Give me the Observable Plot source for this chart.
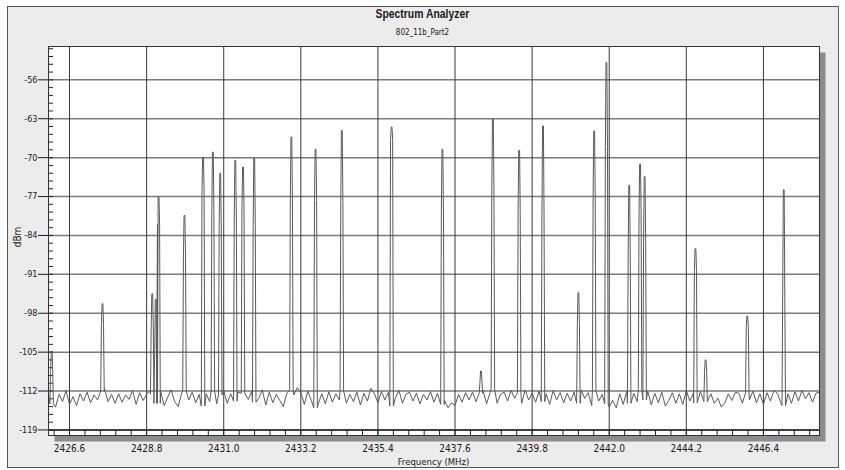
<!DOCTYPE html>
<html>
<head>
<meta charset="utf-8">
<script src="https://cdn.jsdelivr.net/npm/d3@7"></script>
<script src="https://cdn.jsdelivr.net/npm/@observablehq/plot@0.6"></script>
<style>
html,body{margin:0;padding:0;background:#fff;}
#wrap{position:relative;width:845px;height:470px;overflow:hidden;font-family:"DejaVu Sans Condensed","Liberation Sans Narrow","Liberation Sans",sans-serif;color:#1a1a1a;}
#panel{position:absolute;left:7px;top:6px;width:832px;height:462px;box-sizing:border-box;background:#ececec;border:1px solid #555;}
#title{position:absolute;left:0;width:845px;top:6px;line-height:15px;text-align:center;font-family:"Liberation Sans",sans-serif;font-size:13px;font-weight:bold;transform:scaleX(0.8);transform-origin:422px 0;}
#subtitle{position:absolute;left:0;width:845px;top:28px;line-height:10px;text-align:center;font-size:8px;}
#chart{position:absolute;left:0;top:0;}
#ylabel{position:absolute;left:18px;top:237px;transform:translate(-50%,-50%) rotate(-90deg);font-size:10px;line-height:12px;white-space:nowrap;}
#xlabel{position:absolute;left:48px;width:771px;top:456px;line-height:12px;text-align:center;font-size:9.5px;}
</style>
</head>
<body>
<div id="wrap">
  <div id="panel"></div>
  <div id="chart"></div>
  <div id="title">Spectrum Analyzer</div>
  <div id="subtitle">802_11b_Part2</div>
  <div id="ylabel">dBm</div>
  <div id="xlabel">Frequency (MHz)</div>
</div>
<script>
// ---- data ----
const xTicks = [2426.6, 2428.8, 2431.0, 2433.2, 2435.4, 2437.6, 2439.8, 2442.0, 2444.2, 2446.4];
const yTicks = [-56, -63, -70, -77, -84, -91, -98, -105, -112, -119];

// noise floor samples, 2426.0 .. 2448.0 MHz every 0.1 MHz (dBm)
const noiseStart = 2426.0;
const noiseStep = 0.1;
const noise = [
 -112.4,-114.3,-114.9,-112.6,-113.9,-111.9,-114.4,-113.0,-114.6,-112.5,
 -113.8,-112.2,-114.1,-112.7,-113.6,-112.0,-111.6,-113.9,-112.6,-114.2,
 -112.5,-114.0,-112.7,-113.5,-111.9,-114.4,-112.3,-113.7,-112.6,-111.9,
 -112.6,-114.2,-112.1,-114.6,-113.1,-111.8,-113.9,-114.8,-112.4,-111.9,
 -113.6,-112.2,-114.1,-112.6,-114.7,-112.5,-113.9,-112.0,-114.3,-112.7,
 -111.9,-114.2,-112.5,-113.8,-112.2,-114.6,-112.4,-113.5,-112.0,-114.0,
 -113.3,-111.8,-114.5,-112.2,-114.1,-112.6,-113.7,-114.8,-112.4,-111.7,
 -112.7,-111.4,-112.3,-114.4,-112.0,-113.7,-115.0,-114.2,-112.5,-114.3,
 -112.1,-114.0,-112.5,-113.6,-111.9,-114.2,-112.6,-113.9,-112.2,-114.5,
 -112.4,-113.8,-111.5,-112.5,-114.1,-112.1,-113.6,-112.2,-114.7,-113.2,
 -111.9,-114.2,-112.6,-112.2,-113.8,-112.4,-114.3,-112.6,-113.6,-112.1,
 -114.0,-112.4,-114.4,-113.7,-115.0,-114.1,-114.6,-112.6,-114.0,-112.3,
 -113.6,-112.2,-113.9,-112.4,-111.9,-114.3,-112.3,-111.7,-114.2,-112.6,
 -112.2,-113.8,-111.9,-113.3,-112.3,-114.2,-111.8,-113.6,-112.4,-114.0,
 -112.0,-113.9,-112.5,-114.4,-111.9,-113.6,-112.3,-114.1,-112.4,-113.8,
 -112.2,-114.2,-111.8,-113.3,-112.3,-114.6,-112.0,-113.8,-112.6,-114.3,
 -114.9,-113.7,-115.0,-112.5,-114.4,-112.0,-114.2,-112.4,-113.9,-111.8,
 -113.6,-112.0,-114.5,-112.4,-114.1,-112.2,-114.7,-113.7,-112.3,-114.2,
 -112.5,-114.4,-111.9,-113.8,-112.4,-114.1,-112.1,-114.7,-113.9,-112.5,
 -114.2,-113.3,-114.9,-114.1,-112.5,-113.7,-112.2,-112.4,-114.2,-112.3,
 -113.6,-112.0,-114.1,-112.5,-114.4,-112.3,-113.8,-111.9,-112.4,-114.2,
 -114.6,-112.5,-114.2,-112.1,-113.8,-111.9,-113.4,-112.3,-114.0,-112.4,
 -112.2
];

// carrier spikes: centre frequency (MHz), peak level and shoulder level (dBm)
const peakFreq = [2426.09, 2427.54, 2428.96, 2429.06, 2429.14, 2429.88, 2430.41, 2430.69, 2430.90, 2431.33,
                  2431.55, 2431.87, 2432.93, 2433.62, 2434.37, 2435.79, 2437.24, 2438.34, 2438.68, 2439.43,
                  2440.11, 2441.12, 2441.57, 2441.92, 2442.57, 2442.88, 2443.01, 2444.46, 2444.75, 2445.94,
                  2446.98];
const peakTop = [-104.8, -96.3, -94.5, -95.5, -77.1, -80.4, -69.9, -69.0, -72.8, -70.5,
                 -71.7, -70.1, -66.3, -68.5, -65.1, -64.5, -68.5, -108.4, -63.1, -68.7,
                 -64.3, -94.3, -65.2, -52.9, -75.0, -71.2, -73.4, -86.4, -106.4, -98.5,
                 -75.8];
const peakShoulder = [-108.5, -100.0, -100.5, -105.0, -82.0, -88.0, -76.0, -80.0, -82.7, -81.0,
                      -79.5, -82.0, -77.6, -77.7, -77.7, -66.9, -79.8, -110.5, -75.5, -79.8,
                      -80.0, -100.0, -77.0, -68.0, -87.9, -80.5, -85.4, -90.3, -108.5, -100.5,
                      -94.5];

// ---- build trace ----
const trace = [];
noise.forEach((v, i) => {
  const f = noiseStart + i * noiseStep;
  if (!peakFreq.some(p => Math.abs(p - f) < 0.055)) trace.push({f, v});
});
peakFreq.forEach((p, k) => {
  const base = noise[Math.min(noise.length - 1, Math.round((p - noiseStart) / noiseStep))];
  trace.push({f: p - 0.05, v: base}, {f: p - 0.03, v: peakShoulder[k]}, {f: p - 0.012, v: peakTop[k]},
             {f: p + 0.012, v: peakTop[k]}, {f: p + 0.03, v: peakShoulder[k]}, {f: p + 0.05, v: base});
});
trace.sort((a, b) => a.f - b.f);

const xMinor = d3.range(2426.16, 2448, 0.44);
const yMinor = d3.range(-119, -50, 1.4);

const font = '"DejaVu Sans Condensed","Liberation Sans Narrow","Liberation Sans",sans-serif';

const chart = Plot.plot({
  width: 845,
  height: 470,
  marginTop: 46,
  marginBottom: 35,
  marginLeft: 48,
  marginRight: 26,
  style: {background: "transparent", fontFamily: font, fontSize: "9px", color: "#1a1a1a"},
  x: {domain: [2426, 2448]},
  y: {domain: [-120, -50]},
  marks: [
    Plot.frame({fill: "#8c8c8c", dx: 6, dy: 6}),
    Plot.frame({fill: "white"}),
    Plot.gridY(yTicks, {stroke: "#7a7a7a", strokeOpacity: 1, strokeWidth: 1.5}),
    Plot.gridX(xTicks, {stroke: "#3a3a3a", strokeOpacity: 1, strokeWidth: 1}),
    Plot.tickY(yMinor, {y: d => d, insetRight: 766, stroke: "#222"}),
    Plot.tickX(xMinor, {x: d => d, insetTop: 384, stroke: "#222"}),
    Plot.line(trace, {x: "f", y: "v", stroke: "#5a5a5a", strokeWidth: 1}),
    Plot.ruleY([-119], {stroke: "#222", strokeWidth: 1.5}),
    Plot.frame({stroke: "#333"}),
    Plot.axisY(yTicks, {tickSize: 10, tickPadding: 1, label: null, fontSize: 9, tickFormat: d => `${d}`}),
    Plot.axisX(xTicks, {tickSize: 0, tickPadding: 9, label: null, tickFormat: d3.format(".1f"), fontSize: 10})
  ]
});
document.getElementById("chart").appendChild(chart);
</script>
</body>
</html>
